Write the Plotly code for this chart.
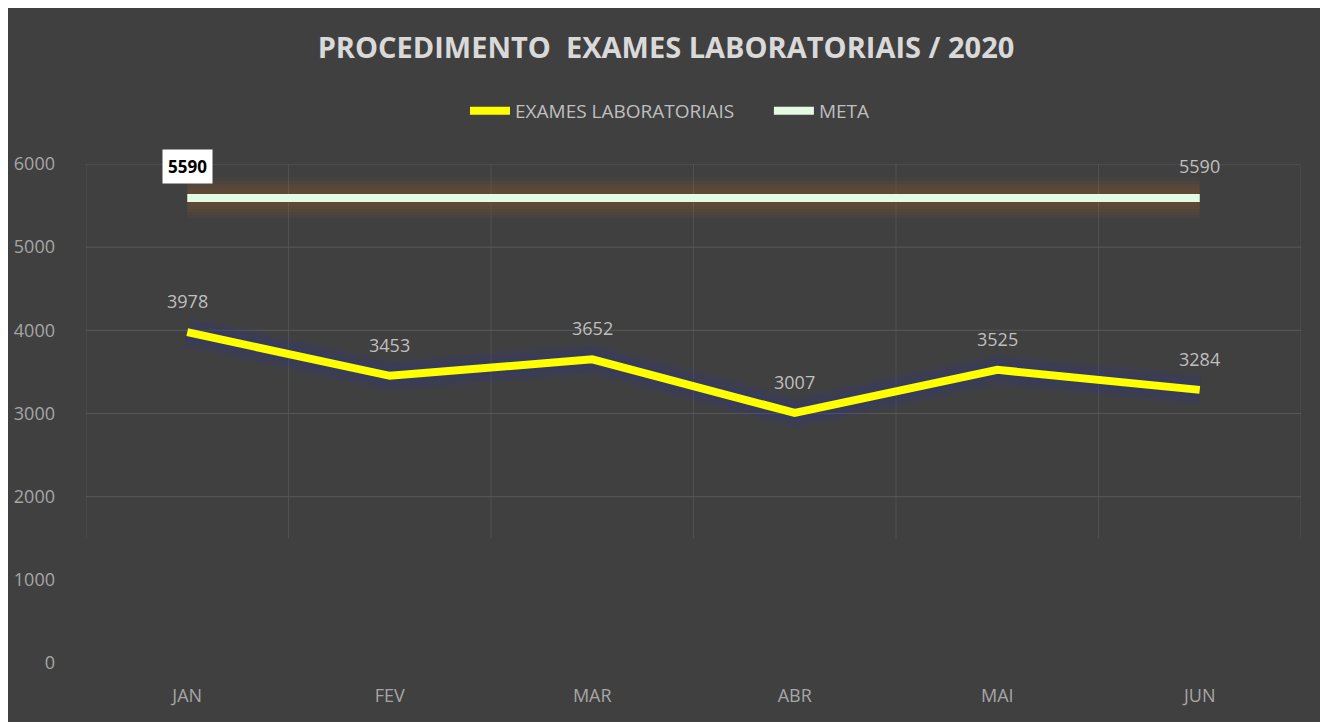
import plotly.graph_objects as go

months = ["JAN", "FEV", "MAR", "ABR", "MAI", "JUN"]
exames = [3978, 3453, 3652, 3007, 3525, 3284]
meta = [5590, 5590, 5590, 5590, 5590, 5590]
y_ticks = [0, 1000, 2000, 3000, 4000, 5000, 6000]
grid_values = [2000, 3000, 4000, 5000, 6000]

FONT = "Open Sans, sans-serif"
BG = "#404040"
W, H = 1317, 714
NBSP = "\u00a0"

fig = go.Figure()

# soft glow layers
for w in [40, 34, 28, 22, 16]:
    fig.add_trace(go.Scatter(x=months, y=meta, mode="lines",
                             line=dict(color="rgba(180,95,30,0.06)", width=w),
                             hoverinfo="skip", showlegend=False))
for w in [32, 26, 20, 14]:
    fig.add_trace(go.Scatter(x=months, y=exames, mode="lines",
                             line=dict(color="rgba(40,60,160,0.09)", width=w),
                             hoverinfo="skip", showlegend=False))

fig.add_trace(go.Scatter(x=months, y=exames, mode="lines",
                         name="EXAMES LABORATORIAIS" + NBSP * 6,
                         line=dict(color="#ffff00", width=8)))
fig.add_trace(go.Scatter(x=months, y=meta, mode="lines", name="META",
                         line=dict(color="#e2fbe2", width=8)))

# data labels
for m, v in zip(months, exames):
    fig.add_annotation(x=m, y=v, text=str(v), showarrow=False, yshift=31,
                       font=dict(family=FONT, size=18, color="#bfbfbf"))
fig.add_annotation(x=months[0], y=meta[0], text="<b>%d</b>" % meta[0], showarrow=False,
                   yshift=32, bgcolor="white", borderpad=5,
                   font=dict(family=FONT, size=17, color="black"))
fig.add_annotation(x=months[-1], y=meta[-1], text=str(meta[-1]), showarrow=False,
                   yshift=32, font=dict(family=FONT, size=18, color="#bfbfbf"))

# gridlines
for g in grid_values:
    fig.add_shape(type="line", xref="paper", yref="y", x0=0, x1=1, y0=g, y1=g,
                  line=dict(color="#585858", width=1), layer="below")
for i in range(len(months) + 1):
    fig.add_shape(type="line", xref="x", yref="y", x0=i - 0.5, x1=i - 0.5, y0=1500, y1=6000,
                  line=dict(color="rgba(88,88,88,0.7)", width=1), layer="below")

fig.update_layout(
    width=W, height=H,
    paper_bgcolor=BG, plot_bgcolor=BG,
    margin=dict(l=78, r=24, t=156, b=59, autoexpand=False),
    title=dict(text="<b>PROCEDIMENTO  EXAMES LABORATORIAIS / 2020</b>",
               x=(666 - 8) / W, xref="container", xanchor="center",
               y=1 - 40 / H, yref="container", yanchor="middle",
               font=dict(family=FONT, size=29, color="#d9d9d9")),
    legend=dict(orientation="h", x=(670 - 8) / W, xref="container", xanchor="center",
                y=1 - 103 / H, yref="container", yanchor="middle",
                font=dict(family=FONT, size=19, color="#bfbfbf"),
                bgcolor="rgba(0,0,0,0)", itemwidth=40, tracegroupgap=0),
    xaxis=dict(type="category", categoryorder="array", categoryarray=months,
               range=[-0.5, len(months) - 0.5], showgrid=False, zeroline=False,
               showline=False, ticks="", ticklabelstandoff=20, automargin=False,
               tickfont=dict(family=FONT, size=18, color="#a6a6a6")),
    yaxis=dict(range=[0, 6000], tickvals=y_ticks, showgrid=False, zeroline=False,
               showline=False, ticks="", ticklabelstandoff=30, automargin=False,
               tickfont=dict(family=FONT, size=18, color="#a6a6a6")),
)

fig.write_html("out.html")
